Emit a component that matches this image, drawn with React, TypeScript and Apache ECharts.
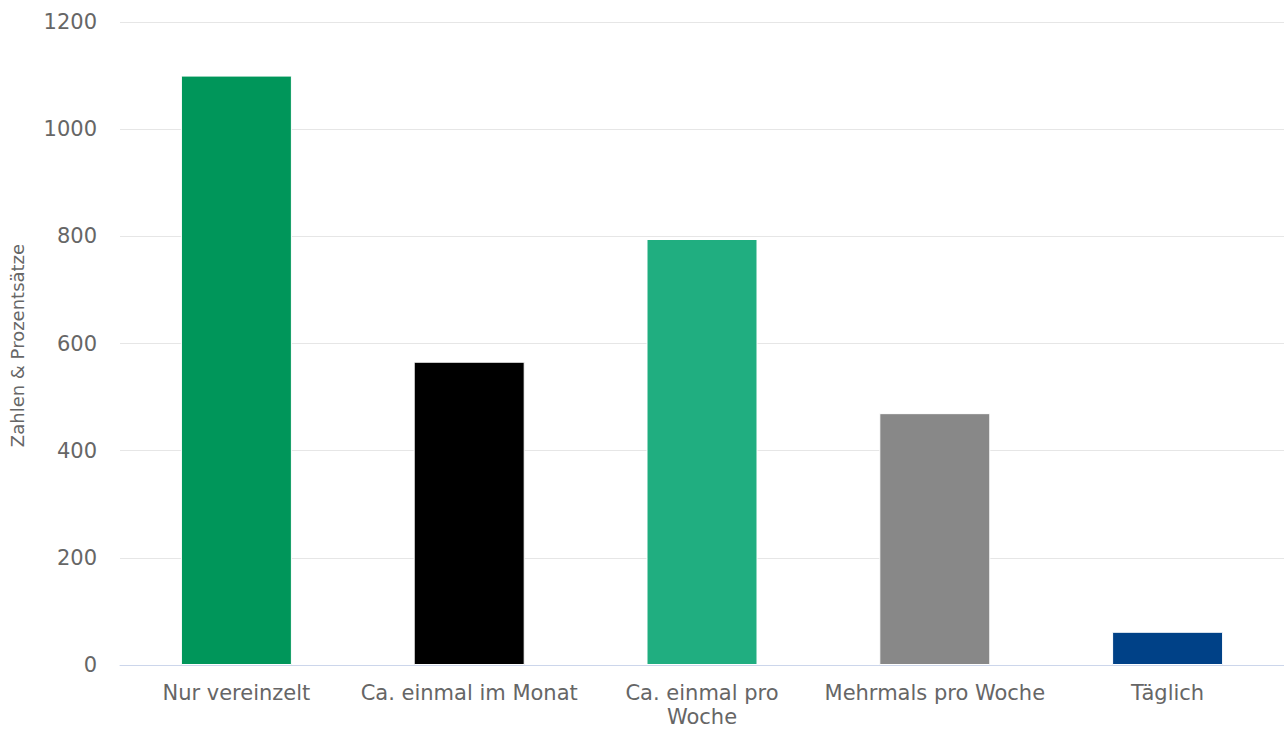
import React, { useEffect, useRef } from "react";
import * as echarts from "echarts";

const categories = [
  "Nur vereinzelt",
  "Ca. einmal im Monat",
  "Ca. einmal pro\nWoche",
  "Mehrmals pro Woche",
  "Täglich",
];
const values = [1100, 566, 795, 470, 62];
const barColors = ["#00965a", "#000000", "#20ae80", "#888888", "#004187"];
const yAxisTitle = "Zahlen & Prozentsätze";

export default function App() {
  const ref = useRef<HTMLDivElement>(null);
  useEffect(() => {
    if (!ref.current) return;
    const chart = echarts.init(ref.current, undefined, { renderer: "svg" });
    chart.setOption({
      animation: false,
      backgroundColor: "#ffffff",
      textStyle: { fontFamily: "DejaVu Sans" },
      grid: {
        left: 120,
        right: 0,
        top: 22,
        bottom: 66,
        containLabel: false,
        outerBoundsMode: "none",
      },
      xAxis: {
        type: "category",
        data: categories,
        axisLine: { show: true, lineStyle: { color: "#ccd6eb", width: 1 } },
        axisTick: { show: false },
        axisLabel: {
          color: "#666666",
          fontSize: 21,
          fontFamily: "DejaVu Sans",
          margin: 16,
          lineHeight: 24,
          interval: 0,
        },
      },
      yAxis: {
        type: "value",
        min: 0,
        max: 1200,
        interval: 200,
        name: yAxisTitle,
        nameLocation: "middle",
        nameRotate: 90,
        nameGap: 94,
        nameTextStyle: {
          color: "#666666",
          fontSize: 18,
          fontFamily: "DejaVu Sans",
          padding: [0, 4, 0, 0],
        },
        axisLine: { show: false },
        axisTick: { show: false },
        axisLabel: {
          color: "#666666",
          fontSize: 21,
          fontFamily: "DejaVu Sans",
          margin: 23,
          formatter: (v: number) => String(v),
        },
        splitLine: { show: true, lineStyle: { color: "#e6e6e6", width: 1 } },
      },
      series: [
        {
          type: "bar",
          barWidth: 111,
          data: values.map((v, i) => ({
            value: v,
            itemStyle: { color: barColors[i], borderColor: "#ffffff", borderWidth: 1 },
          })),
        },
      ],
    });
    return () => chart.dispose();
  }, []);
  return (
    <div
      ref={ref}
      style={{ position: "fixed", left: 0, top: 0, width: 1284, height: 731 }}
    />
  );
}
